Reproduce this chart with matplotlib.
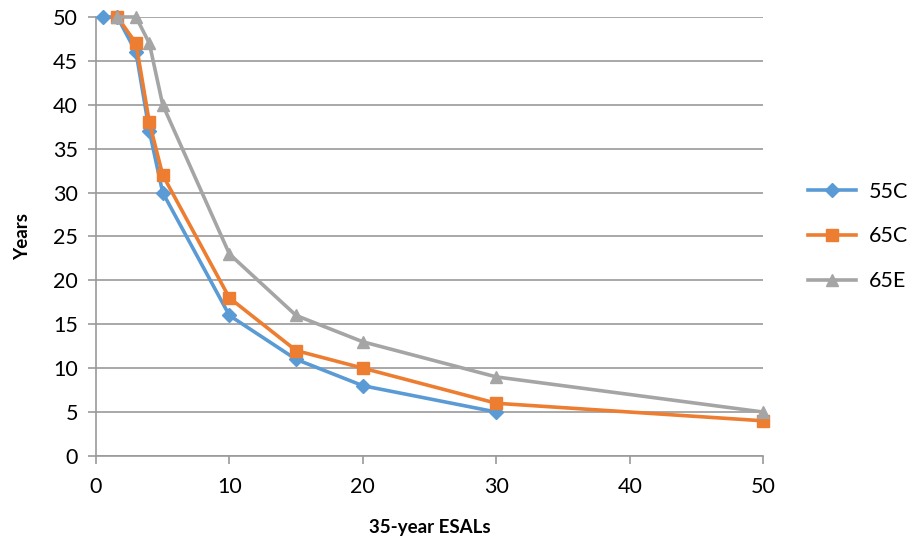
import matplotlib.pyplot as plt

plt.rcParams['font.family'] = ['Lato', 'DejaVu Sans']

# 35-year ESALs vs years
esal_55c = [0.5, 1.6, 3, 4, 5, 10, 15, 20, 30]
years_55c = [50, 50, 46, 37, 30, 16, 11, 8, 5]

esal_65c = [1.6, 3, 4, 5, 10, 15, 20, 30, 50]
years_65c = [50, 47, 38, 32, 18, 12, 10, 6, 4]

esal_65e = [1.6, 3, 4, 5, 10, 15, 20, 30, 50]
years_65e = [50, 50, 47, 40, 23, 16, 13, 9, 5]

fig = plt.figure(figsize=(9.14, 5.48), dpi=100)
ax = fig.add_axes([0.105, 0.168, 0.730, 0.801])

ax.plot(esal_55c, years_55c, color='#5B9BD5', lw=2.6, marker='D', ms=7, label='55C', clip_on=False, zorder=3)
ax.plot(esal_65c, years_65c, color='#ED7D31', lw=2.6, marker='s', ms=9, label='65C', clip_on=False, zorder=4)
ax.plot(esal_65e, years_65e, color='#A5A5A5', lw=2.6, marker='^', ms=9, label='65E', clip_on=False, zorder=5)

ax.set_xlim(0, 50)
ax.set_ylim(0, 50)
ax.set_xticks(range(0, 51, 10))
ax.set_yticks(range(0, 51, 5))
ax.yaxis.grid(True, color='#9a9a9a', lw=1.2)
ax.set_axisbelow(True)
for s in ['top', 'right']:
    ax.spines[s].set_visible(False)
for s in ['left', 'bottom']:
    ax.spines[s].set_color('#9a9a9a')
    ax.spines[s].set_linewidth(1.2)
ax.tick_params(length=6, width=1.2, color='#9a9a9a', labelsize=15.5)
ax.tick_params(axis='x', pad=9)
ax.tick_params(axis='y', pad=7)

ax.set_xlabel('35-year ESALs', fontsize=13.5, fontweight='bold', labelpad=16)
ax.set_ylabel('Years', fontsize=13.5, fontweight='bold', labelpad=16)

ax.legend(loc='center left', bbox_to_anchor=(1.055, 0.5), frameon=False, fontsize=15.5,
          handlelength=2.2, handletextpad=0.6, labelspacing=1.15, borderaxespad=0)

plt.savefig('out.png')
